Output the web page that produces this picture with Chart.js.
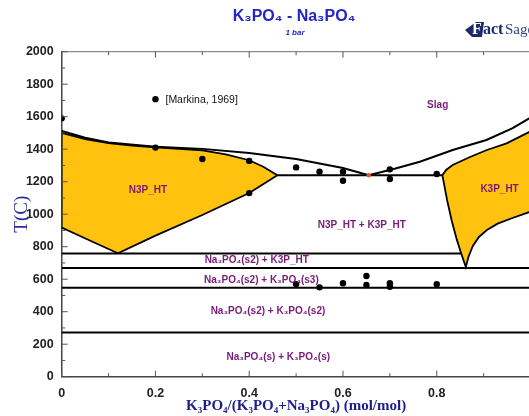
<!DOCTYPE html>
<html>
<head>
<meta charset="utf-8">
<script src="https://cdn.jsdelivr.net/npm/chart.js@4.4.1/dist/chart.umd.min.js"></script>
<style>
  html, body { margin: 0; padding: 0; overflow: hidden; background: #fff; }
  #wrap { position: absolute; left: 0; top: 0; }
</style>
</head>
<body>
<div id="wrap"><canvas id="phase" width="540" height="416"></canvas></div>
<script>
// N3P_HT solid solution field (closed outline)
const n3pX = [0, 0.05, 0.1, 0.15, 0.2, 0.25, 0.3, 0.35, 0.4, 0.43, 0.46, 0.4, 0.3, 0.2, 0.12, 0.06, 0, 0];
const n3pT = [1500, 1462, 1437, 1422, 1412, 1402, 1393, 1368, 1332, 1292, 1240, 1130, 995, 868, 760, 838, 918, 1500];

// K3P_HT solid solution field (closed outline)
const k3pX = [0.812, 0.82, 0.834, 0.871, 0.907, 0.949, 1.0, 1.0, 0.96, 0.93, 0.907, 0.89, 0.877, 0.868, 0.862, 0.852, 0.843, 0.832, 0.822, 0.812];
const k3pT = [1240, 1272, 1303, 1352, 1395, 1436, 1510, 1016, 975, 942, 903, 860, 805, 740, 675, 760, 842, 960, 1088, 1240];

// liquidus, left and right branches
const liqLX = [0, 0.05, 0.1, 0.2, 0.3, 0.4, 0.5, 0.6, 0.655];
const liqLT = [1512, 1470, 1442, 1415, 1402, 1377, 1340, 1284, 1240];
const liqRX = [0.655, 0.71, 0.764, 0.834, 0.906, 0.962, 1.0];
const liqRT = [1240, 1280, 1323, 1395, 1457, 1530, 1595];

// invariant / transition lines
const isoT = [1240, 758, 669, 548, 272];
const isoX0 = [0.46, 0, 0, 0, 0];
const isoX1 = [0.812, 0.852, 1, 1, 1];

// experimental points [Markina, 1969]
const mkX = [0, 0.2, 0.3, 0.4, 0.4, 0.5, 0.55, 0.6, 0.6, 0.7, 0.7, 0.8, 0.5, 0.55, 0.6, 0.65, 0.65, 0.7, 0.7, 0.8];
const mkT = [1590, 1410, 1340, 1328, 1130, 1288, 1262, 1262, 1206, 1276, 1217, 1247, 569, 550, 575, 620, 564, 575, 554, 569];

// calculated eutectic
const eutX = [0.655];
const eutT = [1240];

// legend entry
const legX = [0.2];
const legT = [1708];
const legText = '[Markina, 1969]';

// phase field labels
const labText = ['Slag', 'N3P_HT', 'K3P_HT', 'N3P_HT + K3P_HT', 'Na₃PO₄(s2) + K3P_HT',
  'Na₃PO₄(s2) + K₃PO₄(s3)', 'Na₃PO₄(s2) + K₃PO₄(s2)', 'Na₃PO₄(s) + K₃PO₄(s)'];
const labX = [0.802, 0.184, 0.934, 0.64, 0.416, 0.426, 0.44, 0.462];
const labT = [1672, 1149, 1155, 934, 718, 595, 400, 117];

const xTicks = [0, 0.2, 0.4, 0.6, 0.8];

const pts = (xs, ts) => xs.map((v, i) => ({ x: v, y: ts[i] }));

const YELLOW = '#ffc20f';
const datasets = [];

// dots on top (drawn last => first in list)
datasets.push({ data: pts(mkX, mkT), showLine: false, pointRadius: 3.2, pointBackgroundColor: '#000', pointBorderWidth: 0 });
datasets.push({ data: pts(legX, legT), showLine: false, pointRadius: 3.2, pointBackgroundColor: '#000', pointBorderWidth: 0 });
datasets.push({ data: pts(eutX, eutT), showLine: false, pointRadius: 2.2, pointBackgroundColor: '#e8531f', pointBorderWidth: 0 });

datasets.push({ data: pts(liqLX, liqLT), showLine: true, borderColor: '#000', borderWidth: 2, pointRadius: 0 });
datasets.push({ data: pts(liqRX, liqRT), showLine: true, borderColor: '#000', borderWidth: 2, pointRadius: 0 });
isoT.forEach((t, i) => {
  datasets.push({ data: pts([isoX0[i], isoX1[i]], [t, t]), showLine: true, borderColor: '#000', borderWidth: 2, pointRadius: 0 });
});

datasets.push({ data: pts(n3pX, n3pT), showLine: true, fill: 'shape', backgroundColor: YELLOW, borderColor: '#000', borderWidth: 1.8, pointRadius: 0 });
datasets.push({ data: pts(k3pX, k3pT), showLine: true, fill: 'shape', backgroundColor: YELLOW, borderColor: '#000', borderWidth: 1.8, pointRadius: 0 });

const decor = {
  id: 'decor',
  afterDraw(chart) {
    const { ctx, chartArea: a, scales: { x, y } } = chart;
    const seg = (x0, y0, x1, y1) => { ctx.beginPath(); ctx.moveTo(x0, y0); ctx.lineTo(x1, y1); ctx.stroke(); };
    ctx.save();

    // top frame and inward ticks
    ctx.strokeStyle = '#8a8a8a';
    ctx.lineWidth = 1.2;
    seg(a.left, a.top, a.right, a.top);
    ctx.strokeStyle = '#555';
    ctx.lineWidth = 1;
    for (let i = 0; i <= 10; i++) {
      const px = x.getPixelForValue(i / 10);
      const len = i % 2 === 0 ? 6 : 3.5;
      seg(px, a.bottom, px, a.bottom - len);
      seg(px, a.top, px, a.top + len);
    }
    for (let t = 0; t <= 2000; t += 100) {
      const py = y.getPixelForValue(t);
      seg(a.left, py, a.left + (t % 200 === 0 ? 6 : 3.5), py);
    }

    // phase labels
    ctx.fillStyle = '#771a78';
    ctx.font = 'bold 10px "Liberation Sans", Arial, sans-serif';
    ctx.textAlign = 'center';
    ctx.textBaseline = 'middle';
    labText.forEach((s, i) => ctx.fillText(s, x.getPixelForValue(labX[i]), y.getPixelForValue(labT[i])));

    // legend text
    ctx.fillStyle = '#111';
    ctx.font = '10.5px "Liberation Sans", Arial, sans-serif';
    ctx.textAlign = 'left';
    ctx.fillText(legText, x.getPixelForValue(legX[0]) + 10, y.getPixelForValue(legT[0]) + 0.5);

    // titles
    ctx.fillStyle = '#2424c8';
    ctx.textAlign = 'center';
    ctx.font = 'bold 16px "Liberation Sans", Arial, sans-serif';
    ctx.fillText('K₃PO₄ - Na₃PO₄', 294, 17);
    ctx.font = 'italic bold 8px "Liberation Sans", Arial, sans-serif';
    ctx.fillText('1 bar', 295, 33);

    // axis titles
    ctx.fillStyle = '#1d1d8c';
    ctx.font = 'bold 15px "Liberation Serif", "Times New Roman", serif';
    ctx.fillText('K₃PO₄/(K₃PO₄+Na₃PO₄) (mol/mol)', (a.left + a.right) / 2, 406);
    ctx.save();
    ctx.translate(22, (a.top + a.bottom) / 2);
    ctx.rotate(-Math.PI / 2);
    ctx.fillStyle = '#2b2b9c';
    ctx.font = '19px "Liberation Serif", "Times New Roman", serif';
    ctx.fillText('T(C)', 0, 0);
    ctx.restore();

    // FactSage mark
    ctx.fillStyle = '#1b2a6b';
    ctx.beginPath();
    ctx.moveTo(465, 30); ctx.lineTo(476, 22); ctx.lineTo(484, 22); ctx.lineTo(482, 37); ctx.lineTo(472, 37);
    ctx.closePath(); ctx.fill();
    ctx.textAlign = 'left';
    ctx.font = 'bold 16px "Liberation Serif", serif';
    ctx.fillStyle = '#ffffff';
    ctx.fillText('F', 472, 30);
    ctx.fillStyle = '#1b2a6b';
    ctx.fillText('act', 483, 30);
    ctx.font = '15px "Liberation Serif", serif';
    ctx.fillStyle = '#33447f';
    ctx.fillText('Sage', 505, 30);

    ctx.restore();
  }
};

const tickFont = { family: '"Liberation Sans", Arial, sans-serif', size: 12.5, weight: 'bold' };

new Chart(document.getElementById('phase'), {
  type: 'scatter',
  data: { datasets },
  options: {
    responsive: false,
    animation: false,
    events: [],
    layout: { padding: { left: 0, right: 9.5, top: 51.7, bottom: 0 } },
    plugins: {
      legend: { display: false },
      tooltip: { enabled: false },
      filler: { drawTime: 'beforeDatasetsDraw' }
    },
    scales: {
      x: {
        type: 'linear', min: 0, max: 1,
        afterFit: s => { s.height = 39.3; },
        afterBuildTicks: s => { s.ticks = xTicks.map(v => ({ value: v })); },
        grid: { display: false, drawTicks: false },
        border: { display: true, color: '#444', width: 1.5 },
        ticks: { padding: 9, color: '#222', font: tickFont, maxRotation: 0, callback: v => String(v) }
      },
      y: {
        type: 'linear', min: 0, max: 2000,
        afterFit: s => { s.width = 61.7; },
        grid: { display: false, drawTicks: false },
        border: { display: true, color: '#444', width: 1.5 },
        ticks: { stepSize: 200, padding: 8, color: '#222', font: tickFont, callback: v => String(v) }
      }
    }
  },
  plugins: [decor]
});
</script>
</body>
</html>
